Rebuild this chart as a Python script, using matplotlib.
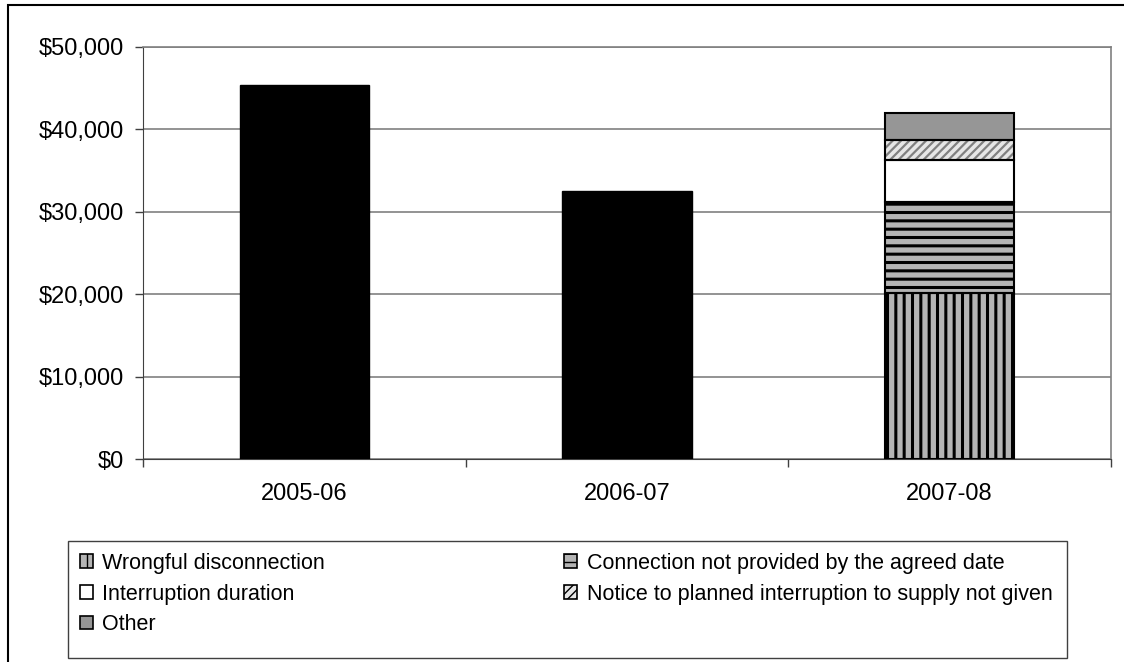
import matplotlib
matplotlib.use("Agg")
import matplotlib.pyplot as plt
from matplotlib.patches import Patch, Rectangle
from matplotlib.ticker import FuncFormatter, FixedLocator

plt.rcParams["font.family"] = ["Liberation Sans", "DejaVu Sans"]
plt.rcParams["font.size"] = 14

# Compensation paid by year
years = ["2005-06", "2006-07", "2007-08"]
totals = [45400, 32500, 0]          # earlier years only reported as a total

# 2007-08 broken down by category
categories = [
    "Wrongful disconnection",
    "Connection not provided by the agreed date",
    "Interruption duration",
    "Notice to planned interruption to supply not given",
    "Other",
]
breakdown_0708 = [20100, 11100, 5050, 2450, 3250]

# fill, hatch, hatch colour, hatch linewidth for each category
styles = [
    ("#b4b4b4", "||", "black", 2.2),
    ("#b4b4b4", "--", "black", 2.2),
    ("white", None, "black", 1.0),
    ("#e6e6e6", "////", "#808080", 1.6),
    ("#969696", None, "black", 1.0),
]

W, H = 1124, 662
fig = plt.figure(figsize=(W / 100, H / 100), dpi=100)
ax = fig.add_axes([143 / W, 1 - 459 / H, (1111 - 143) / W, (459 - 47) / H])

x = list(range(len(years)))
bar_w = 0.4

# solid totals for the earlier years
ax.bar(x[:2], totals[:2], width=bar_w, color="black", edgecolor="black", zorder=3)

# stacked categories for 2007-08
bottom = 0
for name, val, (fc, hatch, hc, hlw) in zip(categories, breakdown_0708, styles):
    with plt.rc_context({"hatch.linewidth": hlw}):
        bars = ax.bar(x[2], val, width=bar_w, bottom=bottom, color=fc,
                      edgecolor=hc, hatch=hatch, linewidth=0, zorder=3)
    for b in bars:
        if hasattr(b, "set_hatch_linewidth"):
            b.set_hatch_linewidth(hlw)
    ax.bar(x[2], val, width=bar_w, bottom=bottom, fill=False,
           edgecolor="black", linewidth=1.5, zorder=4)
    bottom += val

ax.set_xlim(-0.5, 2.5)
ax.set_ylim(0, 50000)
ax.set_yticks(range(0, 50001, 10000))
ax.yaxis.set_major_formatter(FuncFormatter(lambda v, p: f"${v:,.0f}"))
ax.yaxis.grid(True, color="#808080", linewidth=1.2, zorder=0)
ax.set_axisbelow(True)

# category boundaries get the tick marks, labels sit in between
ax.xaxis.set_major_locator(FixedLocator([-0.5, 0.5, 1.5, 2.5]))
ax.xaxis.set_minor_locator(FixedLocator(x))
ax.set_xticklabels([])
ax.set_xticklabels(years, minor=True)
ax.tick_params(axis="x", which="major", length=6, width=1, color="#404040")
ax.tick_params(axis="x", which="minor", length=0, pad=17, labelsize=17)
ax.tick_params(axis="y", length=6, width=1, color="#404040", pad=8, labelsize=17)

for side in ["top", "right"]:
    ax.spines[side].set_color("#808080")
    ax.spines[side].set_linewidth(1.2)
ax.spines["left"].set_color("#404040")
ax.spines["bottom"].set_color("#404040")

handles = [Patch(facecolor=s[0], edgecolor="black", hatch=s[1], linewidth=1.2)
           for s in styles]
order = [0, 2, 4, 1, 3]
leg = fig.legend([handles[i] for i in order], [categories[i] for i in order],
                 loc="upper left", ncol=2, bbox_to_anchor=(68 / W, 1 - 541 / H),
                 fontsize=15.5, handlelength=0.6, handleheight=0.6, handletextpad=0.45,
                 labelspacing=0.45, borderpad=0.55, borderaxespad=0, columnspacing=11.1,
                 frameon=False)

# legend box and outer chart border
fig.add_artist(Rectangle((68 / W, 1 - 658 / H), (1067 - 68) / W, (658 - 541) / H,
                         transform=fig.transFigure, fill=False, edgecolor="#404040",
                         linewidth=1.0))
fig.add_artist(Rectangle((8 / W, -0.1), 1.2, 1 - 5 / H + 0.1, transform=fig.transFigure,
                         fill=False, edgecolor="black", linewidth=1.5))

fig.savefig("out.png", dpi=100)
